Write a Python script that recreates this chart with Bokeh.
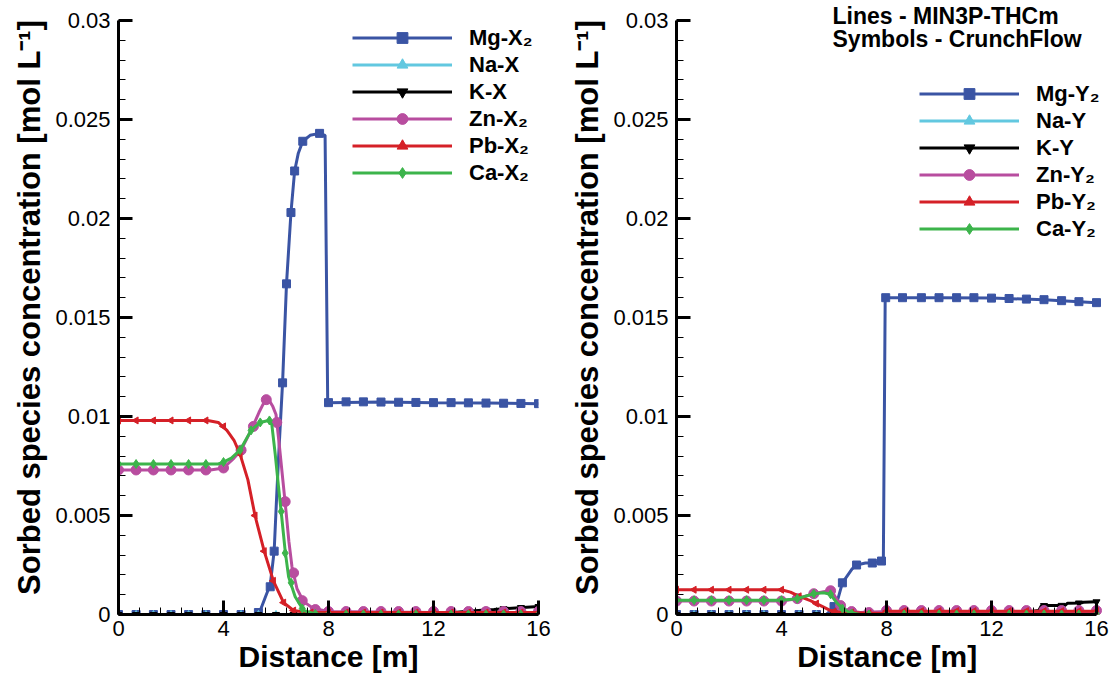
from bokeh.plotting import figure
from bokeh.layouts import row
from bokeh.models import Range1d, FixedTicker, CustomJSTickFormatter, Legend, LegendItem, Label
from bokeh.embed import file_html
from bokeh.resources import INLINE

# ---------------- data ----------------
# common CrunchFlow symbol grid [m]
G = [0, 0.67, 1.33, 2, 2.67, 3.33, 4, 4.67, 5.33, 6, 6.67, 7.33, 8, 8.67, 9.33, 10,
     10.67, 11.33, 12, 12.67, 13.33, 14, 14.67, 15.33, 16]

# ---- left panel: X sites ----
MG_X_LINE_X = [0, 5.2, 5.4, 5.6, 5.78, 5.93, 6.03, 6.12, 6.25, 6.4, 6.57, 6.71, 6.85, 7.02, 7.3, 7.66, 7.87, 7.97, 10, 12, 14, 16]
MG_X_LINE_Y = [0, 0, 0.0002, 0.0009, 0.0015, 0.0032, 0.0061, 0.0085, 0.0117, 0.0167, 0.0203, 0.0224, 0.0233, 0.0239, 0.0242, 0.0243, 0.0242, 0.0107, 0.01073, 0.0107, 0.01068, 0.01065]
MG_X_SYM_X = [0, 0.67, 1.33, 2, 2.67, 3.33, 4, 4.67, 5.33, 5.78, 5.93, 6.25, 6.4, 6.57, 6.71, 7.02, 7.66, 8, 8.67, 9.33, 10, 10.67, 11.33, 12, 12.67, 13.33, 14, 14.67, 15.33, 16]
MG_X_SYM_Y = [0, 0, 0, 0, 0, 0, 0, 0, 0.0001, 0.0014, 0.0032, 0.0117, 0.0167, 0.0203, 0.0224, 0.0239, 0.0243, 0.0107, 0.01074, 0.01074, 0.01073, 0.01072, 0.01071, 0.0107, 0.0107, 0.01069, 0.01068, 0.01067, 0.01066, 0.01065]

NA_X_LINE_X = [0, 16]
NA_X_LINE_Y = [0, 0]
NA_X_SYM_X = G
NA_X_SYM_Y = [0, 0, 0, 0, 0, 0, 0, 0, 0, 0, 0, 0, 0, 0, 0, 0, 0, 0, 0, 0, 0, 0, 0, 0, 0]

K_X_LINE_X = [0, 12, 12.6, 13.2, 13.7, 14.3, 14.8, 15.4, 16]
K_X_LINE_Y = [0, 0, 0.00008, 0.00015, 0.0002, 0.00025, 0.0003, 0.00035, 0.0004]
K_X_SYM_X = G
K_X_SYM_Y = [0, 0, 0, 0, 0, 0, 0, 0, 0, 0, 0, 0, 0, 0, 0, 0, 0, 0, 0, 0.0001, 0.00016, 0.00022, 0.00029, 0.00035, 0.0004]

ZN_X_LINE_X = [0, 3.5, 4.0, 4.4, 4.67, 5.05, 5.35, 5.5, 5.63, 5.75, 5.88, 6.0, 6.13, 6.26, 6.39, 6.49, 6.61, 6.8, 7.05, 7.43, 8, 10, 12, 14, 16]
ZN_X_LINE_Y = [0.0073, 0.0073, 0.0074, 0.0079, 0.0083, 0.0093, 0.0102, 0.0106, 0.01085, 0.0108, 0.0105, 0.0101, 0.0085, 0.0068, 0.0051, 0.0037, 0.0024, 0.0013, 0.00065, 0.0003, 0.00015, 0.00012, 0.0001, 0.0001, 0.0001]
ZN_X_SYM_X = [0, 0.67, 1.33, 2, 2.67, 3.33, 4, 4.67, 5.14, 5.63, 6.03, 6.35, 6.67, 7.0, 7.5, 8, 8.67, 9.33, 10, 10.67, 11.33, 12, 12.67, 13.33, 14, 14.67, 15.33, 16]
ZN_X_SYM_Y = [0.0073, 0.0073, 0.0073, 0.0073, 0.0073, 0.0073, 0.0074, 0.0083, 0.0095, 0.01085, 0.0097, 0.0057, 0.0021, 0.0007, 0.00025, 0.00015, 0.00015, 0.00015, 0.00015, 0.00015, 0.00015, 0.00015, 0.00015, 0.00015, 0.00015, 0.00015, 0.00015, 0.00015]

PB_X_LINE_X = [0, 3.4, 3.8, 4.13, 4.4, 4.63, 4.93, 5.2, 5.55, 5.9, 6.29, 6.67, 7.2, 8, 16]
PB_X_LINE_Y = [0.0098, 0.0098, 0.0097, 0.0093, 0.0088, 0.0081, 0.0068, 0.005, 0.0032, 0.0017, 0.0006, 0.0002, 0.0001, 0.0001, 0.0001]
PB_X_SYM_X = [0, 0.67, 1.33, 2, 2.67, 3.33, 4.0, 4.63, 5.2, 5.55, 5.9, 6.29, 6.67, 7.33, 8, 8.67, 9.33, 10, 10.67, 11.33, 12, 12.67, 13.33, 14, 14.67, 15.33, 16]
PB_X_SYM_Y = [0.0098, 0.0098, 0.0098, 0.0098, 0.0098, 0.0098, 0.0095, 0.0081, 0.005, 0.0032, 0.0017, 0.0006, 0.0002, 0.0001, 0.0001, 0.0001, 0.0001, 0.0001, 0.0001, 0.0001, 0.0001, 0.0001, 0.0001, 0.0001, 0.0001, 0.0001, 0.0001]

CA_X_LINE_X = [0, 3.8, 4.0, 4.3, 4.63, 5.05, 5.4, 5.71, 5.84, 5.97, 6.1, 6.22, 6.35, 6.48, 6.73, 7.05, 7.5, 8, 16]
CA_X_LINE_Y = [0.0076, 0.0076, 0.0077, 0.0079, 0.0083, 0.0093, 0.0097, 0.0098, 0.0096, 0.0081, 0.0064, 0.0049, 0.0032, 0.0019, 0.0009, 0.0002, 0.00003, 0, 0]
CA_X_SYM_X = [0, 0.67, 1.33, 2, 2.67, 3.33, 4, 4.63, 5.05, 5.4, 5.75, 6.2, 6.35, 6.58, 7.0, 7.5, 8, 8.67, 9.33, 10, 10.67, 11.33, 12, 12.67, 13.33, 14, 14.67, 15.33, 16]
CA_X_SYM_Y = [0.0076, 0.0076, 0.0076, 0.0076, 0.0076, 0.0076, 0.0077, 0.0083, 0.0093, 0.0097, 0.0098, 0.0052, 0.0031, 0.0016, 0.0003, 0.00003, 0, 0, 0, 0, 0, 0, 0, 0, 0, 0, 0, 0, 0]

# ---- right panel: Y sites ----
MG_Y_LINE_X = [0, 5.7, 5.87, 6.1, 6.32, 6.69, 6.86, 7.2, 7.46, 7.81, 7.88, 7.95, 10, 12, 14, 16]
MG_Y_LINE_Y = [0, 0, 0.0002, 0.00055, 0.0016, 0.0023, 0.0025, 0.0026, 0.0026, 0.0027, 0.0027, 0.016, 0.016, 0.01598, 0.0159, 0.01575]
MG_Y_SYM_X = [0, 0.67, 1.33, 2, 2.67, 3.33, 4, 4.67, 5.33, 6.0, 6.32, 6.86, 7.46, 7.81, 7.97, 8.61, 9.33, 10, 10.67, 11.33, 12, 12.67, 13.33, 14, 14.67, 15.33, 16]
MG_Y_SYM_Y = [0, 0, 0, 0, 0, 0, 0, 0, 0, 0.0004, 0.0016, 0.0025, 0.0026, 0.0027, 0.016, 0.016, 0.016, 0.016, 0.016, 0.016, 0.01598, 0.01596, 0.01593, 0.0159, 0.01585, 0.0158, 0.01575]

NA_Y_LINE_X = [0, 16]
NA_Y_LINE_Y = [0, 0]
NA_Y_SYM_X = G
NA_Y_SYM_Y = [0, 0, 0, 0, 0, 0, 0, 0, 0, 0, 0, 0, 0, 0, 0, 0, 0, 0, 0, 0, 0, 0, 0, 0, 0]

K_Y_LINE_X = [0, 12, 13.2, 13.8, 13.9, 14.8, 14.9, 15.4, 15.5, 16]
K_Y_LINE_Y = [0, 0, 0.0001, 0.0002, 0.00045, 0.00046, 0.00057, 0.00058, 0.00062, 0.00064]
K_Y_SYM_X = G
K_Y_SYM_Y = [0, 0, 0, 0, 0, 0, 0, 0, 0, 0, 0, 0, 0, 0, 0, 0, 0, 0, 0, 0.00005, 0.00012, 0.00045, 0.00046, 0.00058, 0.00064]

ZN_Y_LINE_X = [0, 4.0, 4.6, 5.23, 5.6, 5.87, 6.0, 6.25, 6.5, 7.0, 8, 16]
ZN_Y_LINE_Y = [0.00068, 0.00068, 0.0008, 0.00105, 0.00115, 0.0012, 0.001, 0.00045, 0.0002, 0.0001, 0.00015, 0.00015]
ZN_Y_SYM_X = [0, 0.67, 1.33, 2, 2.67, 3.33, 4, 4.6, 5.23, 5.87, 6.25, 6.67, 7.33, 8, 8.67, 9.33, 10, 10.67, 11.33, 12, 12.67, 13.33, 14, 14.67, 15.33, 16]
ZN_Y_SYM_Y = [0.00068, 0.00068, 0.00068, 0.00068, 0.00068, 0.00068, 0.00068, 0.0008, 0.00105, 0.0012, 0.00045, 0.00015, 0.0001, 0.0002, 0.0002, 0.0002, 0.0002, 0.0002, 0.0002, 0.0002, 0.0002, 0.0002, 0.0002, 0.0002, 0.0002, 0.0002]

PB_Y_LINE_X = [0, 4.0, 4.34, 4.7, 5.1, 5.49, 5.87, 6.3, 7.9, 8.0, 16]
PB_Y_LINE_Y = [0.00125, 0.00125, 0.00113, 0.0009, 0.0007, 0.00045, 0.0002, 0.0001, 0.00005, 0.00017, 0.00017]
PB_Y_SYM_X = G
PB_Y_SYM_Y = [0.00125, 0.00125, 0.00125, 0.00125, 0.00125, 0.00125, 0.00125, 0.00092, 0.00055, 0.00015, 0.0001, 0.00006, 0.00017, 0.00017, 0.00017, 0.00017, 0.00017, 0.00017, 0.00017, 0.00017, 0.00017, 0.00017, 0.00017, 0.00017, 0.00017]

CA_Y_LINE_X = [0, 4.0, 4.6, 5.23, 5.6, 5.87, 6.1, 6.32, 6.6, 7.0, 16]
CA_Y_LINE_Y = [0.00072, 0.00072, 0.0008, 0.00105, 0.0011, 0.00102, 0.0006, 0.0003, 0.0001, 0, 0]
CA_Y_SYM_X = [0, 0.67, 1.33, 2, 2.67, 3.33, 4, 4.6, 5.23, 5.87, 6.32, 6.67, 7.33, 8, 8.67, 9.33, 10, 10.67, 11.33, 12, 12.67, 13.33, 14, 14.67, 15.33, 16]
CA_Y_SYM_Y = [0.00072, 0.00072, 0.00072, 0.00072, 0.00072, 0.00072, 0.00072, 0.0008, 0.00105, 0.00102, 0.0003, 0.00005, 0, 0, 0, 0, 0, 0, 0, 0, 0, 0, 0, 0, 0, 0]

LABELS_X = ["Mg-X\u2082", "Na-X", "K-X", "Zn-X\u2082", "Pb-X\u2082", "Ca-X\u2082"]
LABELS_Y = ["Mg-Y\u2082", "Na-Y", "K-Y", "Zn-Y\u2082", "Pb-Y\u2082", "Ca-Y\u2082"]

X_TICKS = [0, 4, 8, 12, 16]
Y_TICKS = [0, 0.005, 0.01, 0.015, 0.02, 0.025, 0.03]

X_LABEL = "Distance [m]"
Y_LABEL = "Sorbed species concentration [mol L\u207b\u00b9]"
NOTE_LINES = ["Lines - MIN3P-THCm", "Symbols - CrunchFlow"]

# ---------------- styling ----------------
FONT = "Liberation Sans"
STYLES = [
    dict(color="#3a54a4", marker="square", size=8, angle=0.0),
    dict(color="#62c8e0", marker="triangle", size=7, angle=0.0),
    dict(color="#000000", marker="inverted_triangle", size=7, angle=0.0),
    dict(color="#b84d9f", marker="circle", size=10, angle=0.0),
    dict(color="#d52027", marker="triangle", size=7, angle=1.5708),
    dict(color="#3cb44b", marker="diamond", size=9, angle=0.0),
]

SERIES_X = [
    (MG_X_LINE_X, MG_X_LINE_Y, MG_X_SYM_X, MG_X_SYM_Y),
    (NA_X_LINE_X, NA_X_LINE_Y, NA_X_SYM_X, NA_X_SYM_Y),
    (K_X_LINE_X, K_X_LINE_Y, K_X_SYM_X, K_X_SYM_Y),
    (ZN_X_LINE_X, ZN_X_LINE_Y, ZN_X_SYM_X, ZN_X_SYM_Y),
    (PB_X_LINE_X, PB_X_LINE_Y, PB_X_SYM_X, PB_X_SYM_Y),
    (CA_X_LINE_X, CA_X_LINE_Y, CA_X_SYM_X, CA_X_SYM_Y),
]
SERIES_Y = [
    (MG_Y_LINE_X, MG_Y_LINE_Y, MG_Y_SYM_X, MG_Y_SYM_Y),
    (NA_Y_LINE_X, NA_Y_LINE_Y, NA_Y_SYM_X, NA_Y_SYM_Y),
    (K_Y_LINE_X, K_Y_LINE_Y, K_Y_SYM_X, K_Y_SYM_Y),
    (ZN_Y_LINE_X, ZN_Y_LINE_Y, ZN_Y_SYM_X, ZN_Y_SYM_Y),
    (PB_Y_LINE_X, PB_Y_LINE_Y, PB_Y_SYM_X, PB_Y_SYM_Y),
    (CA_Y_LINE_X, CA_Y_LINE_Y, CA_Y_SYM_X, CA_Y_SYM_Y),
]

FMT = CustomJSTickFormatter(code="return String(Math.round(tick*1000)/1000);")

# frame runs to the top of the canvas; 0.03 sits 20 px below it
FRAME_H = 614
Y_TOP = 0.03 * FRAME_H / (FRAME_H - 20)


def make_panel(series, labels, legend_loc, width, border_right, x_end, x_label):
    p = figure(width=width, height=680, output_backend="svg", toolbar_location=None,
               x_range=Range1d(0, x_end), y_range=Range1d(0, Y_TOP),
               min_border_left=118, min_border_right=border_right,
               min_border_top=0, min_border_bottom=66)
    p.outline_line_color = None
    p.grid.visible = False
    p.background_fill_color = "white"
    p.border_fill_color = "white"

    items = []
    for (lx, ly, sx, sy), lab, st in zip(series, labels, STYLES):
        lr = p.line(lx, ly, line_color=st["color"], line_width=3)
        sr = p.scatter(sx, sy, marker=st["marker"], size=st["size"], angle=st["angle"],
                       fill_color=st["color"], line_color=st["color"], line_width=1)
        items.append(LegendItem(label=lab, renderers=[lr, sr]))

    xa = p.xaxis[0]
    ya = p.yaxis[0]
    xa.ticker = FixedTicker(ticks=X_TICKS, minor_ticks=[0.8 * i for i in range(21)])
    ya.ticker = FixedTicker(ticks=Y_TICKS, minor_ticks=[0.001 * i for i in range(31)])
    ya.bounds = (0, 0.03)
    xa.bounds = (0, 16)
    xa.axis_label = x_label
    ya.axis_label = Y_LABEL
    for ax in (xa, ya):
        ax.formatter = FMT
        ax.axis_line_width = 3
        ax.axis_line_color = "black"
        ax.major_tick_in = 14
        ax.major_tick_out = 0
        ax.major_tick_line_width = 3
        ax.major_tick_line_color = "black"
        ax.minor_tick_in = 7
        ax.minor_tick_out = 0
        ax.minor_tick_line_width = 1
        ax.minor_tick_line_color = "black"
        ax.major_label_text_font = FONT
        ax.major_label_text_font_size = "22px"
        ax.major_label_text_color = "black"
        ax.axis_label_text_font = FONT
        ax.axis_label_text_font_size = "30px"
        ax.axis_label_text_font_style = "bold"
        ax.axis_label_text_color = "black"
    ya.axis_label_text_font_size = "31px"
    xa.major_label_standoff = 6
    xa.axis_label_standoff = 1
    ya.major_label_standoff = 8
    ya.axis_label_standoff = 5

    leg = Legend(items=items, location=legend_loc, padding=0, margin=0, spacing=0,
                 glyph_width=100, glyph_height=27, label_height=27, label_standoff=17,
                 label_text_font=FONT, label_text_font_size="22px",
                 label_text_font_style="bold", label_text_color="black",
                 border_line_color=None, background_fill_alpha=0)
    p.add_layout(leg)
    return p


# left: frame 118..538 px for 0..16 m
p1 = make_panel(SERIES_X, LABELS_X, (234, 428), 558, 20, 16, X_LABEL)
# right: frame runs to the canvas edge so the legend text is not clipped;
# 16 m stays at 420 px from the frame's left edge.  Two no-break spaces keep
# the axis title centred under the 0..16 m axis rather than the wider frame.
p2 = make_panel(SERIES_Y, LABELS_Y, (243, 372), 556, 0, 16 * 438 / 420,
                X_LABEL + "\u00a0\u00a0")

for txt, yy in zip(NOTE_LINES, [599, 576]):
    p2.add_layout(Label(x=156, y=yy, x_units="screen", y_units="screen", text=txt,
                        text_font=FONT, text_font_size="23px", text_font_style="bold",
                        text_baseline="middle", text_align="left", text_color="black"))

layout = row(p1, p2)
open("out.html", "w").write(file_html(layout, INLINE))
